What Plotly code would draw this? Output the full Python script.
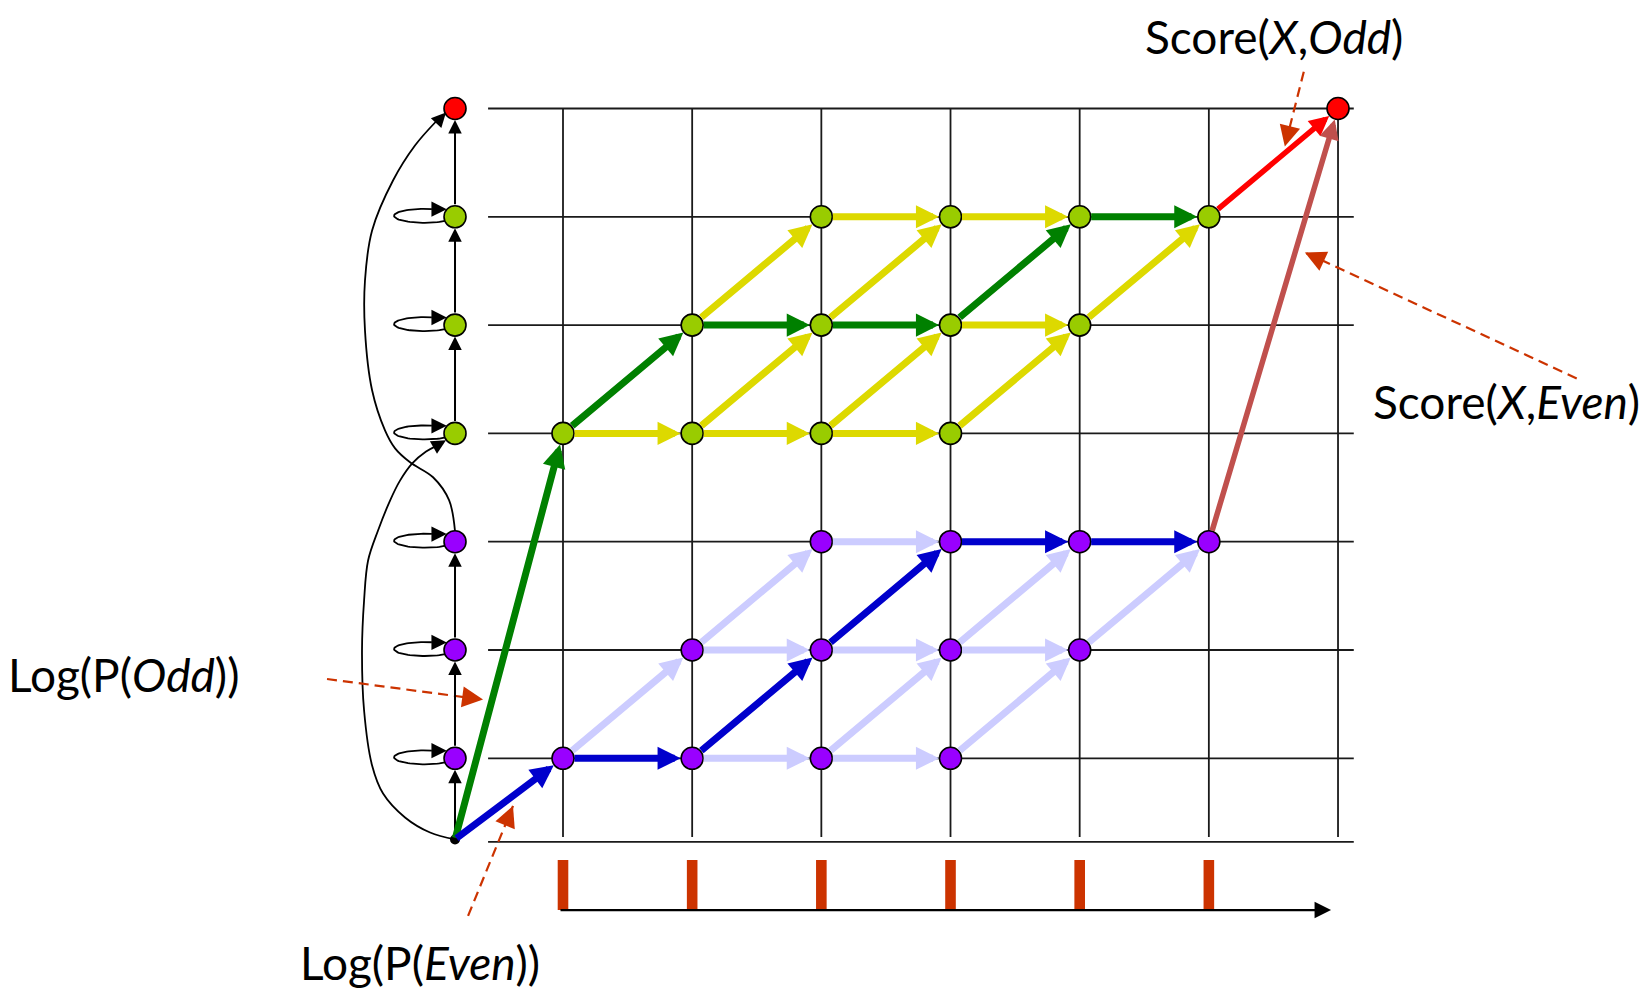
import math

import numpy as np
import plotly.graph_objects as go

# Grid units: x = sequence position (columns 1..6, end column 7),
# y = state slot (rows 1-3 Even states, rows 4-6 Odd states, row 7 End).
STATE_X = 0.164          # left-hand column with the model's states
START_Y = 0.251          # Begin state
END_COL, END_ROW = 7, 7

POSITIONS = [1, 2, 3, 4, 5, 6]
GRID_COLS = [1, 2, 3, 4, 5, 6, 7]
GRID_ROWS = [1, 2, 3, 4, 5, 6, 7]

EVEN_COLS = [1, 2, 3, 4, 2, 3, 4, 5, 3, 4, 5, 6]
EVEN_ROWS = [1, 1, 1, 1, 2, 2, 2, 2, 3, 3, 3, 3]
ODD_COLS = [1, 2, 3, 4, 2, 3, 4, 5, 3, 4, 5, 6]
ODD_ROWS = [4, 4, 4, 4, 5, 5, 5, 5, 6, 6, 6, 6]

EVEN_STATE_ROWS = [1, 2, 3]
ODD_STATE_ROWS = [4, 5, 6]
LOOP_ROWS = [1, 2, 3, 4, 5, 6]
# vertical transitions in the state column (from row, to row); 0 = Begin
STATE_STEPS = [(0, 1), (1, 2), (2, 3), (4, 5), (5, 6), (6, 7)]

# (col0, row0, col1, row1)
ODD_EDGES = [
    (1, 4, 2, 4), (2, 4, 3, 4), (3, 4, 4, 4), (4, 5, 5, 5), (3, 6, 4, 6), (4, 6, 5, 6),
    (2, 4, 3, 5), (3, 4, 4, 5), (4, 4, 5, 5), (2, 5, 3, 6), (3, 5, 4, 6), (5, 5, 6, 6),
]
EVEN_EDGES = [
    (2, 1, 3, 1), (3, 1, 4, 1), (2, 2, 3, 2), (3, 2, 4, 2), (4, 2, 5, 2), (3, 3, 4, 3),
    (1, 1, 2, 2), (3, 1, 4, 2), (4, 1, 5, 2), (2, 2, 3, 3), (4, 2, 5, 3), (5, 2, 6, 3),
]
# best paths, starting from Begin (col 0)
ODD_BEST = [(0, 0), (1, 4), (2, 5), (3, 5), (4, 5), (5, 6), (6, 6)]
EVEN_BEST = [(0, 0), (1, 1), (2, 1), (3, 2), (4, 3), (5, 3), (6, 3)]

# long curved transitions on the left
EVEN_TO_END_X = [0.164, 0.118, -0.006, -0.184, -0.300, -0.378, -0.478, -0.533, -0.533,
                 -0.478, -0.316, -0.146, 0.017]
EVEN_TO_END_Y = [3.097, 3.383, 3.595, 3.733, 3.862, 4.028, 4.398, 4.951, 5.412,
                 5.874, 6.335, 6.658, 6.880]
EVEN_TO_END_TIP = (0.094, 6.962)
BEGIN_TO_ODD_X = [0.164, -0.029, -0.223, -0.393, -0.478, -0.540, -0.556, -0.540, -0.509,
                  -0.432, -0.339, -0.262, -0.169, -0.060, 0.009]
BEGIN_TO_ODD_Y = [0.251, 0.315, 0.454, 0.675, 0.934, 1.441, 1.996, 2.457, 2.826,
                  3.103, 3.380, 3.564, 3.721, 3.832, 3.878]
BEGIN_TO_ODD_TIP = (0.094, 3.936)

# dashed call-outs: (tail x, tail y, tip x, tip y)
CALLOUTS = [
    (6.735, 7.340, 6.588, 6.649),
    (8.848, 4.508, 6.743, 5.671),
    (-0.827, 1.732, 0.381, 1.542),
    (0.265, -0.455, 0.613, 0.560),
]
LABELS = ["Score(<i>X</i>,<i>Odd</i>)", "Score(<i>X</i>,<i>Even</i>)",
          "Log(P(<i>Odd</i>))", "Log(P(<i>Even</i>))"]

# ---- layout constants (pixel calibration against the 1652 x 1000 page) ----
PAGE_MARGIN = 8                      # default body margin of the html page
W, H = 1652 - 2 * PAGE_MARGIN, 1000 - 2 * PAGE_MARGIN
PX_X, PX_Y = 129.17, 108.3
X_RANGE = [1 - (563 - PAGE_MARGIN) / PX_X, 1 + (PAGE_MARGIN + W - 563) / PX_X]
Y_RANGE = [1 - (PAGE_MARGIN + H - 758.3) / PX_Y, 1 + (758.3 - PAGE_MARGIN) / PX_Y]
H_LINE_X = (0.42, 7.122)
V_LINE_BOTTOM = 0.274
BASE_Y = 0.228
TICK_TOP, TICK_BOTTOM = 0.061, -0.401
AXIS_ARROW_X = (0.969, 6.946)
LABEL_POS = [(1274, 37), (1506, 401), (124, 674), (420, 962)]

PURPLE, LIME, RED = "#9900FF", "#99CC00", "#FF0000"
YELLOW, LAVENDER = "#DDD900", "#CCCCFF"
GREEN, BLUE = "#008000", "#0000CC"
BROWN, CALLOUT = "#C0504D", "#CC3300"
FONT = "Lato, 'Open Sans', sans-serif"


def col_x(c):
    return STATE_X if c == 0 else c


def row_y(c, r):
    return START_Y if (c == 0 and r == 0) else r


def arrow(x0, y0, x1, y1, color, width, size, standoff=0, startstandoff=0):
    return dict(x=x1, y=y1, ax=x0, ay=y0, xref="x", yref="y", axref="x", ayref="y",
                text="", showarrow=True, arrowhead=2, arrowsize=size, arrowwidth=width,
                arrowcolor=color, standoff=standoff, startstandoff=startstandoff)


def head(x0, y0, x1, y1, color, width, size, length):
    dx = (x1 - x0) * PX_X
    dy = -(y1 - y0) * PX_Y
    n = math.hypot(dx, dy)
    return dict(x=x1, y=y1, xref="x", yref="y", ax=-dx / n * length, ay=-dy / n * length,
                text="", showarrow=True, arrowhead=2, arrowsize=size, arrowwidth=width,
                arrowcolor=color)


fig = go.Figure()

# grid
gx, gy = [], []
for r in GRID_ROWS:
    gx += [H_LINE_X[0], H_LINE_X[1], None]
    gy += [r, r, None]
for c in GRID_COLS:
    gx += [c, c, None]
    gy += [GRID_ROWS[-1], V_LINE_BOTTOM, None]
gx += [H_LINE_X[0], H_LINE_X[1]]
gy += [BASE_Y, BASE_Y]
fig.add_trace(go.Scatter(x=gx, y=gy, mode="lines", line=dict(color="#1a1a1a", width=1.8),
                         hoverinfo="skip"))

# red position ticks
fig.add_trace(go.Bar(x=POSITIONS, y=[TICK_TOP - TICK_BOTTOM] * len(POSITIONS),
                     base=TICK_BOTTOM, width=0.082, marker=dict(color=CALLOUT, line_width=0),
                     hoverinfo="skip"))

# self loops in the state column
lx, ly = [], []
t = np.radians(np.linspace(-40, -284, 60))
for r in LOOP_ROWS:
    lx += list(-0.072 + 0.236 * np.cos(t)) + [None]
    ly += list(r + 0.009 + 0.0646 * np.sin(t)) + [None]
fig.add_trace(go.Scatter(x=lx, y=ly, mode="lines", line=dict(color="black", width=1.8),
                         hoverinfo="skip"))

# long curves
for cx, cy in [(EVEN_TO_END_X, EVEN_TO_END_Y), (BEGIN_TO_ODD_X, BEGIN_TO_ODD_Y)]:
    fig.add_trace(go.Scatter(x=cx, y=cy, mode="lines",
                             line=dict(color="black", width=1.8, shape="spline", smoothing=1),
                             hoverinfo="skip"))

# dashed call-out lines
for x0, y0, x1, y1 in CALLOUTS:
    fig.add_trace(go.Scatter(x=[x0, x1], y=[y0, y1], mode="lines",
                             line=dict(color=CALLOUT, width=2.2, dash="10px,6px"),
                             hoverinfo="skip"))

# nodes
node_line = dict(color="black", width=1.6)
fig.add_trace(go.Scatter(
    x=EVEN_COLS + [STATE_X] * len(EVEN_STATE_ROWS), y=EVEN_ROWS + EVEN_STATE_ROWS,
    mode="markers", marker=dict(size=22, color=PURPLE, line=node_line), hoverinfo="skip"))
fig.add_trace(go.Scatter(
    x=ODD_COLS + [STATE_X] * len(ODD_STATE_ROWS), y=ODD_ROWS + ODD_STATE_ROWS,
    mode="markers", marker=dict(size=22, color=LIME, line=node_line), hoverinfo="skip"))
fig.add_trace(go.Scatter(
    x=[STATE_X, END_COL], y=[END_ROW, END_ROW],
    mode="markers", marker=dict(size=22, color=RED, line=node_line), hoverinfo="skip"))
fig.add_trace(go.Scatter(x=[STATE_X], y=[START_Y], mode="markers",
                         marker=dict(size=10, color="black"), hoverinfo="skip"))

ann = []
# loop heads
for r in LOOP_ROWS:
    ann.append(head(-0.02, r + 0.07, 0.10, r + 0.07, "black", 1.8, 1.7, 15))
# curve heads
ann.append(head(EVEN_TO_END_X[-2], EVEN_TO_END_Y[-2], *EVEN_TO_END_TIP, "black", 1.8, 1.6, 14))
ann.append(head(BEGIN_TO_ODD_X[-2], BEGIN_TO_ODD_Y[-2], *BEGIN_TO_ODD_TIP, "black", 1.8, 1.6, 14))
# state column steps
for r0, r1 in STATE_STEPS:
    y0 = START_Y if r0 == 0 else r0
    ann.append(arrow(STATE_X, y0, STATE_X, r1, "black", 2, 1.35,
                     standoff=11.5, startstandoff=0 if r0 == 0 else 11))
# lattice
for edges, color in [(ODD_EDGES, YELLOW), (EVEN_EDGES, LAVENDER)]:
    for c0, r0, c1, r1 in edges:
        ann.append(arrow(c0, r0, c1, r1, color, 7, 0.66, standoff=11.5, startstandoff=10))
for path, color in [(ODD_BEST, GREEN), (EVEN_BEST, BLUE)]:
    for (c0, r0), (c1, r1) in zip(path[:-1], path[1:]):
        ann.append(arrow(col_x(c0), row_y(c0, r0), c1, r1, color, 7, 0.66,
                         standoff=11.5, startstandoff=0 if c0 == 0 else 10))
ann.append(arrow(ODD_BEST[-1][0], ODD_BEST[-1][1], END_COL, END_ROW, RED, 5.5, 0.72,
                 standoff=11.5, startstandoff=10))
ann.append(arrow(EVEN_BEST[-1][0], EVEN_BEST[-1][1], END_COL, END_ROW, BROWN, 5.5, 0.72,
                 standoff=11.5, startstandoff=10))
# call-out heads
for x0, y0, x1, y1 in CALLOUTS:
    ann.append(head(x0, y0, x1, y1, CALLOUT, 2.2, 1.9, 20))
# sequence axis
ann.append(arrow(AXIS_ARROW_X[0], TICK_BOTTOM, AXIS_ARROW_X[1], TICK_BOTTOM, "black", 2.2, 1.5))
# labels
for text, (px, py) in zip(LABELS, LABEL_POS):
    ann.append(dict(x=(px - PAGE_MARGIN) / W, y=1 - (py - PAGE_MARGIN) / H,
                    xref="paper", yref="paper", text=text,
                    showarrow=False, xanchor="center", yanchor="middle",
                    font=dict(family=FONT, size=46, color="black")))

fig.update_layout(
    width=W, height=H, margin=dict(l=0, r=0, t=0, b=0),
    plot_bgcolor="white", paper_bgcolor="white", showlegend=False,
    xaxis=dict(range=X_RANGE, visible=False, fixedrange=True),
    yaxis=dict(range=Y_RANGE, visible=False, fixedrange=True),
    annotations=ann,
)

fig.write_html("out.html")
